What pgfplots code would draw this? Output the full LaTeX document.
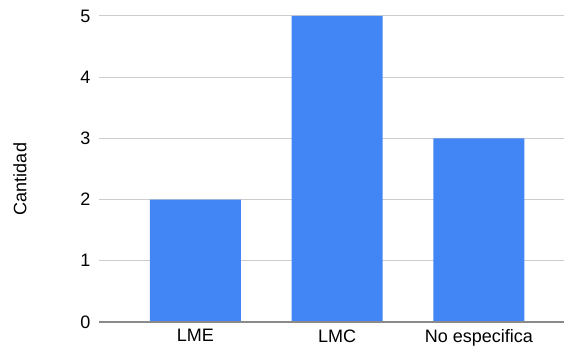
\documentclass[border=0pt]{standalone}
\usepackage{pgfplots}
\pgfplotsset{compat=1.18}
\usepackage{fontspec}
\setmainfont{Liberation Sans}
\definecolor{barblue}{HTML}{4285F4}
\definecolor{gridgray}{HTML}{CCCCCC}
\definecolor{basegray}{HTML}{8A8A8A}
\begin{document}
\begin{tikzpicture}[x=1pt,y=1pt]
\path[use as bounding box] (0,0) rectangle (565,356);
\begin{axis}[
  at={(99pt,34pt)}, anchor=south west,
  scale only axis, width=465pt, height=306pt,
  xmin=-0.68, xmax=2.60, ymin=0, ymax=5,
  ybar, bar width=91pt,
  xtick={0,1,2}, xticklabels={LME,LMC,No especifica},
  ytick={0,1,2,3,4,5},
  axis line style={draw=none},
  major tick length=0pt,
  ymajorgrids, grid style={gridgray, line width=1pt},
  tick label style={font=\fontsize{18}{20}\selectfont},
  /pgf/number format/assume math mode=true,
  yticklabel style={xshift=-5pt},
  xticklabel style={yshift=-4pt},
  clip=false,
]
\addplot[fill=barblue, draw=none] coordinates {(0,2) (1,5) (2,3)};
\draw[basegray, line width=1.5pt] (axis cs:-0.68,0) -- (axis cs:2.60,0);
\end{axis}
\node[rotate=90, font=\fontsize{18}{20}\selectfont] at (20,177) {Cantidad};
\end{tikzpicture}
\end{document}
